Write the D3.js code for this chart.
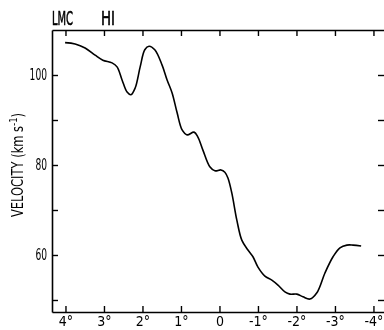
<!DOCTYPE html>
<html>
<head>
<meta charset="utf-8">
<script src="https://cdn.jsdelivr.net/npm/d3@7"></script>
<style>
  body { margin: 0; background: #fff; }
  svg { will-change: transform; }
  svg text { font-family: "Liberation Sans Narrow", "DejaVu Sans Condensed", sans-serif; fill: #000; }
</style>
</head>
<body>
<div id="root"></div>
<script>
// galactic longitude offset (deg) and HI velocity (km/s)
const lon = [4.01, 3.75, 3.49, 3.23, 3.03, 2.79, 2.66, 2.53, 2.40, 2.30, 2.19, 2.06, 1.94, 1.83, 1.68,
  1.49, 1.36, 1.23, 1.10, 0.97, 0.84, 0.66, 0.56, 0.43, 0.25, 0.12, -0.04, -0.14, -0.22, -0.32,
  -0.45, -0.58, -0.74, -0.87, -1.00, -1.18, -1.36, -1.52, -1.70, -1.83, -2.01, -2.17, -2.35,
  -2.53, -2.74, -2.95, -3.13, -3.31, -3.47, -3.68];
const vel = [107.2, 106.9, 106.0, 104.4, 103.3, 102.7, 101.8, 98.9, 96.2, 95.6, 97.1, 101.8, 105.6, 106.4, 105.6,
  102.2, 98.9, 96.0, 91.6, 87.8, 86.7, 87.3, 86.2, 83.3, 79.6, 78.7, 78.9, 78.4, 77.1, 73.8,
  67.8, 63.3, 61.1, 59.6, 57.3, 55.3, 54.4, 53.3, 51.8, 51.3, 51.3, 50.7, 50.2,
  51.6, 56.0, 59.6, 61.6, 62.2, 62.2, 62.0];

const xTicks = [4, 3, 2, 1, 0, -1, -2, -3, -4];
const xTickLabels = ["4°", "3°", "2°", "1°", "0", "-1°", "-2°", "-3°", "-4°"];
const yTicks = [50, 60, 70, 80, 90, 100];
const yTickLabels = { 60: "60", 80: "80", 100: "100" };

const main = () => {
  const W = 384, H = 330;
  const left = 52, right = 385, top = 30, bottom = 312;

  const svg = d3.select("#root").append("svg")
    .attr("width", W).attr("height", H);

  const x = d3.scaleLinear().domain([4.35, -4.3]).range([left, right]);
  const y = d3.scaleLinear().domain([47.33, 110]).range([bottom, top]);

  const styleAxis = g => {
    g.selectAll("path.domain").attr("stroke", "#000").attr("stroke-width", 1.6);
    g.selectAll(".tick line").attr("stroke", "#000").attr("stroke-width", 1.4);
  };

  // bottom axis with labels
  svg.append("g")
    .attr("transform", `translate(0,${bottom})`)
    .call(d3.axisBottom(x).tickValues(xTicks).tickSizeInner(-6).tickSizeOuter(0).tickPadding(4)
      .tickFormat((d, i) => xTickLabels[i]))
    .call(styleAxis)
    .call(g => g.selectAll("text").attr("font-size", 14));

  // top axis, ticks only
  svg.append("g")
    .attr("transform", `translate(0,${top})`)
    .call(d3.axisTop(x).tickValues(xTicks).tickSizeInner(-6).tickSizeOuter(0).tickFormat(""))
    .call(styleAxis);

  // left axis
  svg.append("g")
    .attr("transform", `translate(${left},0)`)
    .call(d3.axisLeft(y).tickValues(yTicks).tickSizeInner(-6).tickSizeOuter(0).tickPadding(5)
      .tickFormat(d => yTickLabels[d] || ""))
    .call(styleAxis)
    .call(g => g.selectAll("text").attr("font-size", 15)
      .attr("textLength", d => yTickLabels[d] ? yTickLabels[d].length * 5.8 : null)
      .attr("lengthAdjust", "spacingAndGlyphs"));

  // right axis, ticks only
  svg.append("g")
    .attr("transform", `translate(${right},0)`)
    .call(d3.axisRight(y).tickValues(yTicks).tickSizeInner(-7).tickSizeOuter(0).tickFormat(""))
    .call(styleAxis)
    .call(g => g.select("path.domain").remove());

  // curve
  const line = d3.line()
    .x((d, i) => x(lon[i]))
    .y((d, i) => y(vel[i]))
    .curve(d3.curveCatmullRom.alpha(0.5));

  svg.append("path")
    .datum(lon)
    .attr("d", line)
    .attr("fill", "none")
    .attr("stroke", "#000")
    .attr("stroke-width", 1.6);

  // titles
  svg.append("text").attr("x", 52).attr("y", 25).attr("font-size", 20)
    .attr("stroke", "#000").attr("stroke-width", 0.6)
    .attr("textLength", 21).attr("lengthAdjust", "spacingAndGlyphs").text("LMC");
  svg.append("text").attr("x", 101).attr("y", 25).attr("font-size", 20)
    .attr("stroke", "#000").attr("stroke-width", 0.6)
    .attr("textLength", 14).attr("lengthAdjust", "spacingAndGlyphs").text("HI");

  const yl = svg.append("text")
    .attr("transform", `translate(23,165) rotate(-90)`)
    .attr("text-anchor", "middle")
    .attr("font-size", 15)
    .attr("textLength", 104).attr("lengthAdjust", "spacingAndGlyphs");
  yl.append("tspan").text("VELOCITY (km s");
  yl.append("tspan").attr("dy", -6).attr("font-size", 11).text("-1");
  yl.append("tspan").attr("dy", 6).text(")");
};

main();
</script>
</body>
</html>
